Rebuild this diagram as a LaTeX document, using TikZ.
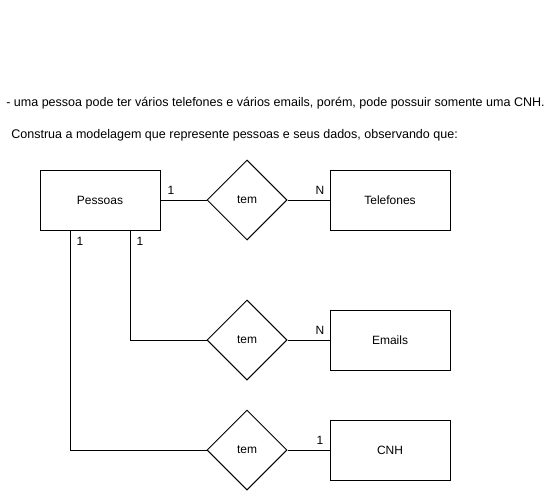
\documentclass[tikz,border=0pt]{standalone}
\usepackage{fontspec}
\setmainfont{Liberation Sans}
\usetikzlibrary{shapes.geometric}
\begin{document}
\begin{tikzpicture}[x=0.75pt,y=-0.75pt,
  every node/.style={font=\fontsize{9}{11}\selectfont, inner sep=0pt},
  heading/.style={anchor=west, font=\fontsize{9.4}{11}\selectfont},
  entity/.style={draw, line width=0.75pt, minimum width=90pt, minimum height=45pt},
  rel/.style={draw, diamond, line width=0.75pt, minimum width=60pt, minimum height=60pt},
  conn/.style={line width=0.75pt},
  card/.style={font=\fontsize{9}{11}\selectfont}]
\useasboundingbox (0,0) rectangle (552,492);
\node[heading] (t1) at (6,103) {- uma pessoa pode ter vários telefones e vários emails, porém, pode possuir somente uma CNH.};
\node[heading] (t2) at (11,135) {Construa a modelagem que represente pessoas e seus dados, observando que:};
\node[entity] (pes) at (100,200) {Pessoas};
\node[rel] (r1) at (247,200) {tem};
\node[entity] (tel) at (390,200) {Telefones};
\node[rel] (r2) at (247,340) {tem};
\node[entity] (ema) at (390,340) {Emails};
\node[rel] (r3) at (247,450) {tem};
\node[entity] (cnh) at (390,450) {CNH};
\coordinate (p1) at (70,230);
\coordinate (p2) at (130,230);
\draw[conn] (pes.east) -- (r1.west);
\draw[conn] (r1.east) -- (tel.west);
\draw[conn] (p2) |- (r2.west);
\draw[conn] (r2.east) -- (ema.west);
\draw[conn] (p1) |- (r3.west);
\draw[conn] (r3.east) -- (cnh.west);
\node[card] (c1) at (171,190) {1};
\node[card] (c2) at (320,190) {N};
\node[card] (c3) at (80,241) {1};
\node[card] (c4) at (140,241) {1};
\node[card] (c5) at (320,330) {N};
\node[card] (c6) at (320,440) {1};
\end{tikzpicture}
\end{document}
